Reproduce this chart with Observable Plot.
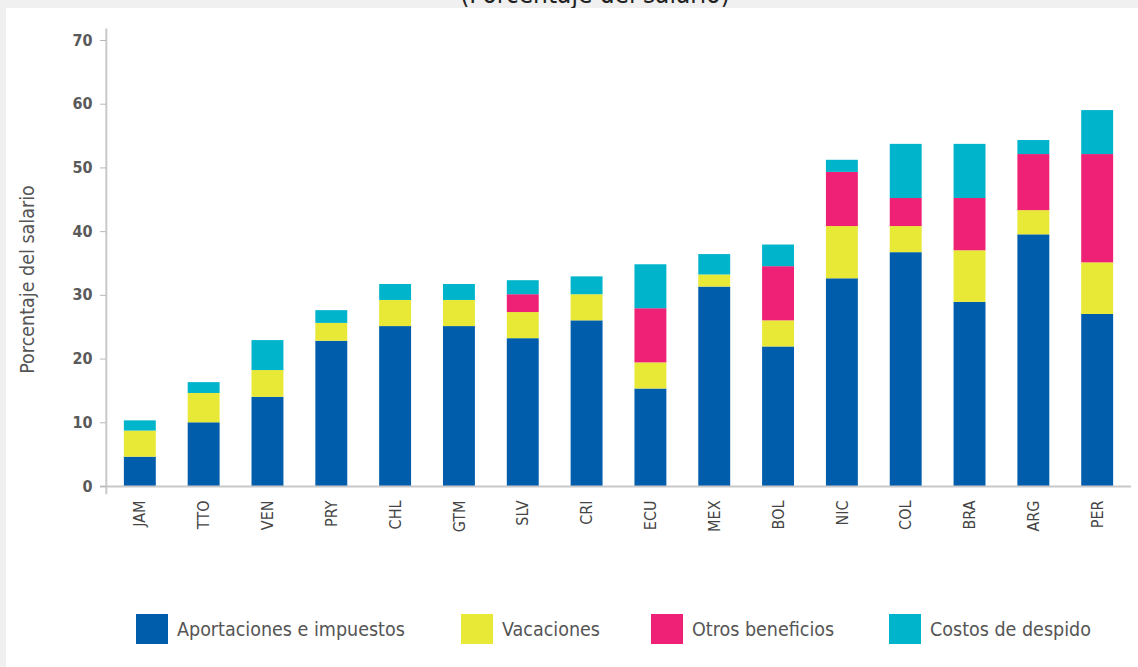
<!DOCTYPE html>
<html>
<head>
<meta charset="utf-8">
<script src="https://cdn.jsdelivr.net/npm/d3@7"></script>
<script src="https://cdn.jsdelivr.net/npm/@observablehq/plot@0.6"></script>
<style>
  html, body { margin: 0; padding: 0; }
  body { width: 1138px; height: 667px; overflow: hidden; position: relative; background: #f0f0f0;
         font-family: "DejaVu Sans Condensed", "Roboto Condensed", "Liberation Sans Narrow", Roboto, sans-serif; }
  #title { position: absolute; left: 0; width: 1190px; top: -19px; text-align: center; font-size: 26px; line-height: 26px; color: #222; white-space: nowrap; }
  #panel { position: absolute; left: 6px; top: 8px; right: 0; bottom: 0; background: #fff; }
  #chart { position: absolute; left: 0; top: 0; }
  .lg-item { position: absolute; top: 614px; display: flex; align-items: center; height: 30px; font-size: 19.5px; color: #555; white-space: nowrap; }
  .lg-sw { width: 32px; height: 30px; margin-right: 9px; flex: none; }
</style>
</head>
<body>
<div id="title">(Porcentaje del salario)</div>
<div id="panel"></div>
<div id="chart"></div>
<div id="legend"></div>
<script>
// ---- data ----
const countries = ["JAM","TTO","VEN","PRY","CHL","GTM","SLV","CRI","ECU","MEX","BOL","NIC","COL","BRA","ARG","PER"];
const seriesNames = ["Aportaciones e impuestos","Vacaciones","Otros beneficios","Costos de despido"];
const aportaciones = [4.6,10.0,14.0,22.8,25.1,25.1,23.2,26.0,15.3,31.3,21.9,32.6,36.7,28.9,39.5,27.0];
const vacaciones   = [4.1, 4.6, 4.2, 2.8, 4.1, 4.1, 4.1, 4.1, 4.1, 1.9, 4.1, 8.2, 4.1, 8.1, 3.8, 8.1];
const otros        = [0,   0,   0,   0,   0,   0,   2.8, 0,   8.5, 0,   8.5, 8.5, 4.4, 8.2, 8.8,17.0];
const despido      = [1.6, 1.7, 4.7, 2.0, 2.5, 2.5, 2.2, 2.8, 6.9, 3.2, 3.4, 1.9, 8.5, 8.5, 2.2, 6.9];
const yTicks = [0,10,20,30,40,50,60,70];
const colors = ["#005dab","#e8e836","#ee2176","#00b4cb"];
const yLabel = "Porcentaje del salario";

// ---- table ----
const seriesValues = [aportaciones, vacaciones, otros, despido];
const rows = [];
countries.forEach((c, i) => {
  seriesNames.forEach((s, k) => rows.push({country: c, series: s, value: seriesValues[k][i]}));
});

const font = getComputedStyle(document.body).fontFamily;

const chart = Plot.plot({
  width: 1138,
  height: 560,
  marginLeft: 106,
  marginRight: 7,
  marginTop: 40,
  marginBottom: 74,
  style: {fontFamily: font, fontSize: "16px", background: "transparent", overflow: "visible"},
  x: {domain: countries, paddingInner: 0.5, paddingOuter: 0.28, round: false, label: null},
  y: {domain: [0, 70], label: null},
  color: {domain: seriesNames, range: colors},
  marks: [
    Plot.barY(rows, {x: "country", y: "value", fill: "series"}),
    Plot.ruleY([0], {stroke: "#c8c8c8", strokeWidth: 2, insetLeft: -6, insetRight: 0}),
    Plot.ruleX([countries[0]], {dx: -34, y1: -1.3, y2: 71.8, stroke: "#c8c8c8", strokeWidth: 2}),
    Plot.axisY({ticks: yTicks, tickSize: 6, tickPadding: 8, stroke: "#b8b8b8", fill: "#5a5a5a", fontSize: 16, fontWeight: 600, label: null}),
    Plot.axisX({tickRotate: -90, tickSize: 0, tickPadding: 14, fill: "#444", fontSize: 16, label: null}),
    Plot.text([yLabel], {frameAnchor: "left", textAnchor: "middle", dx: -79, dy: 16, rotate: -90, fontSize: 19.5, fill: "#555"})
  ]
});
document.getElementById("chart").appendChild(chart);

// ---- legend (HTML, below the SVG) ----
const legendLeft = [136, 461, 651, 889];
const legend = document.getElementById("legend");
seriesNames.forEach((s, k) => {
  const item = document.createElement("div");
  item.className = "lg-item";
  item.style.left = legendLeft[k] + "px";
  const sw = document.createElement("div");
  sw.className = "lg-sw";
  sw.style.background = colors[k];
  item.appendChild(sw);
  item.appendChild(document.createTextNode(s));
  legend.appendChild(item);
});
</script>
</body>
</html>
